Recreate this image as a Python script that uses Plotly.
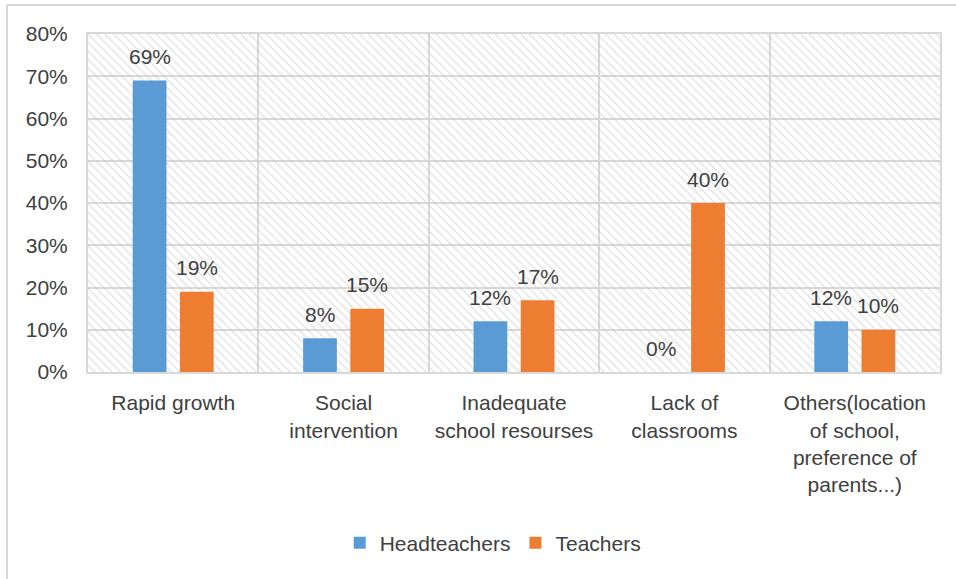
import plotly.graph_objects as go

categories = ["Rapid growth", "Social<br>intervention", "Inadequate<br>school resourses",
              "Lack of<br>classrooms", "Others(location<br>of school,<br>preference of<br>parents...)"]
headteachers = [0.69, 0.08, 0.12, 0.00, 0.12]
teachers = [0.19, 0.15, 0.17, 0.40, 0.10]
series_names = ["Headteachers", "Teachers"]
y_ticks = [0, 0.1, 0.2, 0.3, 0.4, 0.5, 0.6, 0.7, 0.8]

BLUE = "#5B9BD5"
ORANGE = "#ED7D31"
TXT = "#404040"
GRID = "#d9d9d9"
FONT = "Liberation Sans"

fig = go.Figure()

# hatched plot-area background (on base axis, drawn under data)
fig.add_trace(go.Bar(
    x=[0.5], y=[y_ticks[-1]], width=[1], xaxis="x", yaxis="y",
    marker=dict(color="rgba(0,0,0,0)", line=dict(width=0),
                pattern=dict(shape="\\", size=6, solidity=0.22, fgcolor="#c4c4c4",
                             fillmode="overlay")),
    showlegend=False, hoverinfo="skip"))

fig.add_trace(go.Bar(x=categories, y=headteachers, name=series_names[0],
                     marker=dict(color=BLUE, line=dict(width=0)), xaxis="x2", yaxis="y"))
fig.add_trace(go.Bar(x=categories, y=teachers, name=series_names[1],
                     marker=dict(color=ORANGE, line=dict(width=0)), xaxis="x2", yaxis="y"))

annotations = []
for vals, shift in ((headteachers, -23.6), (teachers, 23.6)):
    for c, v in zip(categories, vals):
        annotations.append(dict(x=c, y=v, xref="x2", yref="y", text=f"{round(v*100)}%",
                                showarrow=False, xshift=shift, yshift=24, yanchor="middle",
                                font=dict(family=FONT, size=21, color=TXT)))

shapes = [
    dict(type="line", xref="paper", yref="paper", x0=(7 - 88) / 852, x1=2, y0=(372 - 5) / 338,
         y1=(372 - 5) / 338, line=dict(color=GRID, width=2), layer="below"),
    dict(type="line", xref="paper", yref="paper", x0=(7 - 88) / 852, x1=(7 - 88) / 852,
         y0=-1, y1=(372 - 5) / 338, line=dict(color=GRID, width=2), layer="below"),
]

fig.update_layout(
    width=956, height=579,
    margin=dict(l=88, r=16, t=34, b=207),
    paper_bgcolor="white", plot_bgcolor="white",
    font=dict(family=FONT, size=21, color=TXT),
    barmode="group", bargap=0.446, bargroupgap=0.285,
    xaxis=dict(range=[0, 1], visible=False, fixedrange=True),
    xaxis2=dict(overlaying="x", anchor="y", type="category", tickson="boundaries",
                showgrid=True, gridcolor=GRID, gridwidth=2, ticks="",
                showline=True, linecolor=GRID, linewidth=2, mirror=True,
                ticklabelstandoff=11,
                tickfont=dict(family=FONT, size=21, color=TXT)),
    yaxis=dict(range=[0, 0.8], tickvals=y_ticks, tickformat=".0%", showgrid=True,
               gridcolor=GRID, gridwidth=2, zeroline=False, showline=True,
               linecolor=GRID, linewidth=2, mirror=True, ticks="",
               ticklabelstandoff=14, tickfont=dict(family=FONT, size=21, color=TXT)),
    legend=dict(orientation="h", x=0.475, xanchor="center", y=-0.506, yanchor="middle",
                font=dict(family=FONT, size=21, color=TXT), traceorder="normal"),
    annotations=annotations,
    shapes=shapes,
)

fig.write_html("out.html", config={"displayModeBar": False},
               post_script="document.body.style.margin='0';")
